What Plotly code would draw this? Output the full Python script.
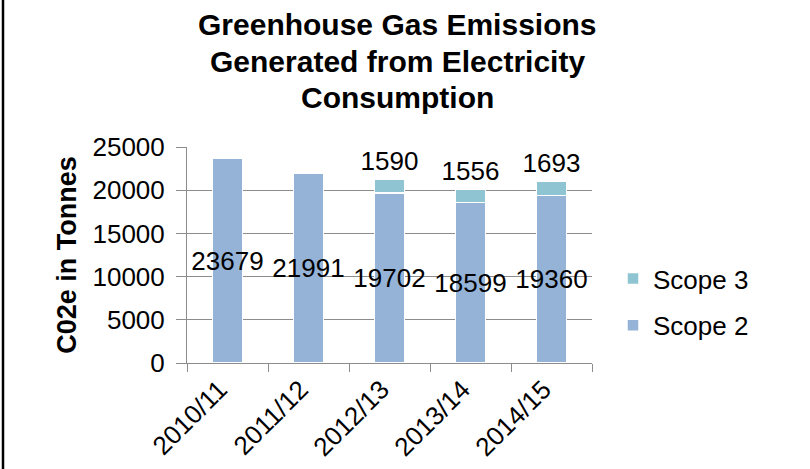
import plotly.graph_objects as go

# Electricity-related emissions by financial year (tonnes CO2e)
years = ["2010/11", "2011/12", "2012/13", "2013/14", "2014/15"]
scope2 = [23679, 21991, 19702, 18599, 19360]
scope3 = [None, None, 1590, 1556, 1693]
title_lines = ["Greenhouse Gas Emissions", "Generated from Electricity", "Consumption"]

W, H = 810, 469
L, R, T, B = 187, 218, 147, 106
plot_w, plot_h = W - L - R, H - T - B

FONT = "Arial, Liberation Sans, sans-serif"
SCOPE2_COLOR = "#95B3D7"
SCOPE3_COLOR = "#8FC4D2"
GRID = "#8C8C8C"

fig = go.Figure()

fig.add_trace(go.Bar(
    x=years, y=scope2, name="Scope 2",
    marker=dict(color=SCOPE2_COLOR, line=dict(color="white", width=1.5)),
    text=[str(v) for v in scope2], textposition="inside",
    insidetextanchor="middle", textangle=0, constraintext="none",
    textfont=dict(family=FONT, size=26, color="black"),
    legendgroup="s2", legendrank=2,
))
fig.add_trace(go.Bar(
    x=years, y=scope3, name="Scope 3",
    marker=dict(color=SCOPE3_COLOR, line=dict(color="white", width=1.5)),
    text=["" if v is None else str(v) for v in scope3], textposition="outside",
    textangle=0, constraintext="none", cliponaxis=False,
    textfont=dict(family=FONT, size=26, color="black"),
    legendgroup="s3", legendrank=1,
))

fig.update_layout(
    width=W, height=H,
    margin=dict(l=L, r=R, t=T, b=B, autoexpand=False),
    paper_bgcolor="white", plot_bgcolor="white",
    barmode="stack", bargap=0.63,
    font=dict(family=FONT, size=26, color="black"),
    legend=dict(
        x=(653 - 40 - L) / plot_w, xanchor="left",
        y=(H - B - 255) / plot_h, yanchor="top",
        traceorder="grouped", tracegroupgap=10,
        font=dict(family=FONT, size=26, color="black"),
        bgcolor="rgba(0,0,0,0)",
    ),
    xaxis=dict(
        tickangle=-45, ticks="outside", tickson="boundaries", ticklen=8,
        tickcolor=GRID, showline=True, linecolor=GRID, linewidth=1,
        showgrid=False, ticklabelshift=-8,
        tickfont=dict(family=FONT, size=26, color="black"),
        automargin=False,
    ),
    yaxis=dict(
        range=[0, 25000], tickvals=[0, 5000, 10000, 15000, 20000, 25000],
        tickformat="d",
        ticks="outside", ticklen=10, tickcolor=GRID,
        showline=True, linecolor=GRID, linewidth=1,
        showgrid=True, gridcolor=GRID, gridwidth=1,
        zeroline=False, ticklabelstandoff=6,
        tickfont=dict(family=FONT, size=26, color="black"),
        title=dict(text="C02e in Tonnes", standoff=8,
                   font=dict(family=FONT, size=27, color="black", weight="bold")),
        automargin=False,
    ),
    showlegend=True,
)

# three-line bold chart title
title_centers = [25, 61, 97]
for line, yc in zip(title_lines, title_centers):
    fig.add_annotation(
        text=line, showarrow=False,
        xref="paper", yref="paper",
        x=(397 - L) / plot_w, xanchor="center",
        y=(H - B - yc) / plot_h, yanchor="middle",
        font=dict(family=FONT, size=30, color="black", weight="bold"),
    )

# black frame edge along the left side of the chart
fig.add_shape(
    type="line", xref="paper", yref="paper",
    x0=(3 - L) / plot_w, x1=(3 - L) / plot_w,
    y0=-B / plot_h, y1=1 + T / plot_h,
    line=dict(color="black", width=2.5),
)

fig.write_html("out.html")
